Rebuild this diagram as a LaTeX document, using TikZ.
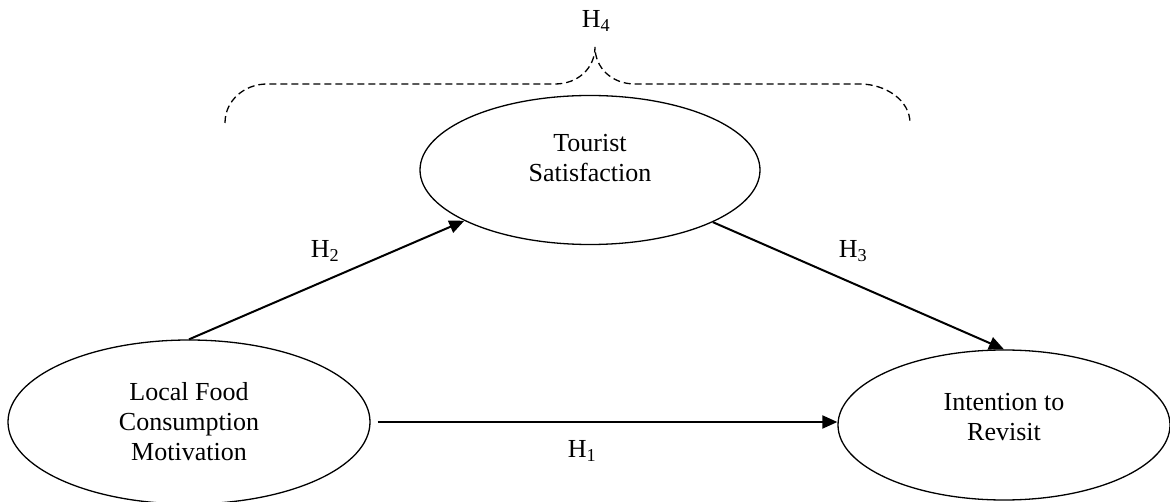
\documentclass[tikz,border=0pt]{standalone}
\usepackage{fontspec}
\setmainfont{Liberation Serif}
\usepackage{tikz}
\usetikzlibrary{shapes.geometric}
\usetikzlibrary{arrows.meta}
\usetikzlibrary{positioning}

\begin{document}
\begin{tikzpicture}[x=1pt, y=-1pt,
	font=\fontsize{26}{30}\selectfont,
	construct/.style={draw, ellipse, line width=1.3pt, inner sep=0pt},
	path/.style={line width=2pt, -{Triangle[length=15pt,width=13pt]}},
	hyp/.style={inner sep=0pt}]
	\useasboundingbox (0,0) rectangle (1170,502);
		\node[construct, minimum width=362pt, minimum height=164pt] (lfcm) at (189, 422) {};
		\node[construct, minimum width=340pt, minimum height=149pt] (ts) at (590, 170) {};
		\node[construct, minimum width=332pt, minimum height=150pt] (itr) at (1004, 425) {};
		\node[align=center] (lfcmtext) at (lfcm.center) {Local Food\\Consumption\\Motivation};
		\node[align=center] (tstext) at ([yshift=12pt]ts.center) {Tourist\\Satisfaction};
		\node[align=center] (itrtext) at ([yshift=8pt]itr.center) {Intention to\\Revisit};
		\node[hyp] (h1) at (582, 451) {H\textsubscript{1}};
		\node[hyp] (h2) at (325, 251) {H\textsubscript{2}};
		\node[hyp] (h3) at (853, 251) {H\textsubscript{3}};
		\node[hyp] (h4) at (596, 21) {H\textsubscript{4}};
		\draw[path] (lfcm.north) to (ts.202.6);
		\draw[path] (ts.-23) to (itr.north);
		\draw[path] ([xshift=7pt]lfcm.east) to (lfcm.east -| itr.west);
		% dashed brace over the mediator
		\draw[dashed, dash pattern=on 7pt off 4pt, line width=1.3pt]
			(225,123) .. controls (225,100) and (245,84) .. (267,84) -- (555,84)
			.. controls (578,84) and (595,68) .. (595,47)
			.. controls (595,68) and (612,84) .. (635,84) -- (860,84)
			.. controls (885,84) and (910,100) .. (910,123);
\end{tikzpicture}
\end{document}
